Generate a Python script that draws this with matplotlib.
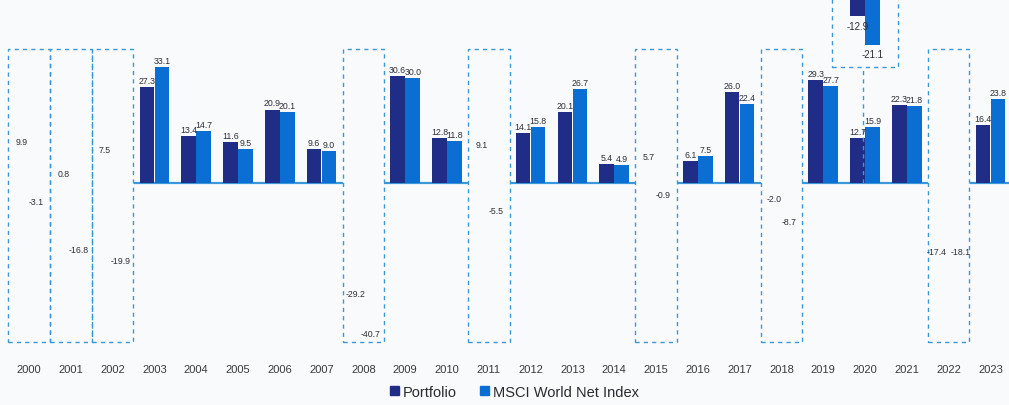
import matplotlib.pyplot as plt
from matplotlib.patches import Rectangle, Patch
import numpy as np

plt.rcParams['font.family'] = ['Liberation Sans', 'DejaVu Sans']

# Data
years = list(range(2000, 2024))
portfolio = [9.9, 0.8, 7.5, 27.3, 13.4, 11.6, 20.9, 9.6, -29.2, 30.6, 12.8, 9.1,
             14.1, 20.1, 5.4, 5.7, 6.1, 26.0, -2.0, 29.3, 12.7, 22.3, -17.4, 16.4]
msci = [-3.1, -16.8, -19.9, 33.1, 14.7, 9.5, 20.1, 9.0, -40.7, 30.0, 11.8, -5.5,
        15.8, 26.7, 4.9, -0.9, 7.5, 22.4, -8.7, 27.7, 15.9, 21.8, -18.1, 23.8]

# 2020 drawdown inset (shown hanging from the top)
inset_year = 2020
inset_portfolio = -12.9
inset_msci = -21.1

C_PORT = '#1f2d86'
C_MSCI = '#0a6ed3'
C_DASH = '#3a97d8'
C_TEXT = '#2e2e38'

fig = plt.figure(figsize=(10.09, 4.06), dpi=100)
fig.patch.set_facecolor('#f9fafb')
ax = fig.add_axes([0, 56 / 406, 1, 350 / 406])
ax.set_facecolor('none')

x = np.array(years)
w = 0.35
off = 0.18
down = [m < 0 for m in msci]

# dashed boxes for down years, solid zero line for up years
box_top, box_bot = 38.3, -45.7
for yr, d in zip(years, down):
    if d:
        ax.add_patch(Rectangle((yr - 0.5, box_bot), 1.0, box_top - box_bot, fill=False,
                               edgecolor=C_DASH, linestyle=(0, (3, 3)), linewidth=1.0))
    else:
        ax.hlines(0, yr - 0.5, yr + 0.5, color=C_DASH, linewidth=1.6, zorder=1)

# bars for up years only
up_x = np.array([yr for yr, d in zip(years, down) if not d])
up_p = [p for p, d in zip(portfolio, down) if not d]
up_m = [m for m, d in zip(msci, down) if not d]
ax.bar(up_x - off, up_p, width=w, color=C_PORT, zorder=2)
ax.bar(up_x + off, up_m, width=w, color=C_MSCI, zorder=2)

def label(xv, val, dx=0, dy=0):
    if val >= 0:
        ax.annotate(f'{val:.1f}', (xv, val), xytext=(dx, 1.5 + dy), textcoords='offset points',
                    ha='center', va='bottom', fontsize=6.3, color=C_TEXT)
    else:
        ax.annotate(f'{val:.1f}', (xv, val), xytext=(dx, -3 + dy), textcoords='offset points',
                    ha='center', va='top', fontsize=6.3, color=C_TEXT)

for xi, p, m in zip(x, portfolio, msci):
    if p < 0 and m < 0 and abs(p - m) < 2:
        label(xi - off, p, dx=-3)
        label(xi + off, m, dx=3, dy=2)
    else:
        label(xi - off, p)
        label(xi + off, m)

# 2020 inset
base = 60.5
ax.add_patch(Rectangle((inset_year - 0.79, 33.1), 1.58, 40, fill=False,
                       edgecolor=C_DASH, linestyle=(0, (3, 3)), linewidth=1.0))
ax.vlines(inset_year - 0.05, 0, 33.1, color=C_DASH, linestyle=(0, (3, 3)), linewidth=1.0)
ax.bar([inset_year - off], [inset_portfolio], bottom=base, width=w, color=C_PORT, zorder=2)
ax.bar([inset_year + off], [inset_msci], bottom=base, width=w, color=C_MSCI, zorder=2)
ax.annotate(f'{inset_portfolio:.1f}', (inset_year - off, base + inset_portfolio),
            xytext=(0, -3), textcoords='offset points', ha='center', va='top',
            fontsize=7, color=C_TEXT)
ax.annotate(f'{inset_msci:.1f}', (inset_year + off, base + inset_msci),
            xytext=(0, -3), textcoords='offset points', ha='center', va='top',
            fontsize=7, color=C_TEXT)

ax.set_xlim(-29 / 41.8 + 2000, (1009 - 29) / 41.8 + 2000)
ax.set_ylim(-(350 - 183.5) / 3.49, 183.5 / 3.49)
ax.set_xticks(years)
ax.set_xticklabels([str(y) for y in years], fontsize=8, color='#3a3a3a')
ax.tick_params(axis='x', length=0, pad=11)
ax.set_yticks([])
for s in ax.spines.values():
    s.set_visible(False)

handles = [Patch(color=C_PORT), Patch(color=C_MSCI)]
fig.legend(handles, ['Portfolio', 'MSCI World Net Index'], loc='center',
           bbox_to_anchor=(0.51, 0.032), ncol=2, frameon=False, fontsize=10.5,
           handlelength=0.6, handleheight=0.6, handletextpad=0.3, columnspacing=1.6,
           labelcolor='#2a2a30')

fig.savefig('out.png', dpi=100, facecolor=fig.get_facecolor())
